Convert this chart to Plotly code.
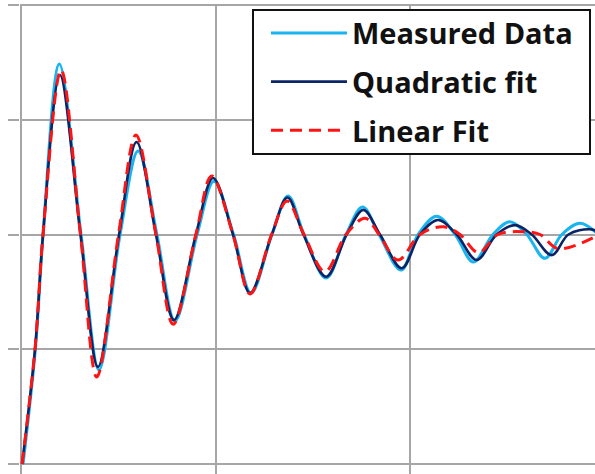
import plotly.graph_objects as go

# Measured data (light blue)
meas_t = [0.008, 0.072, 0.111, 0.195, 0.307, 0.399, 0.508, 0.601, 0.698, 0.791, 0.905, 0.992,
          1.093, 1.183, 1.291, 1.374, 1.456, 1.570, 1.673, 1.758, 1.843, 1.956, 2.044, 2.140,
          2.235, 2.329, 2.430, 2.518, 2.604, 2.698, 2.785, 2.879, 2.982]
meas_y = [0.000, 0.505, 1.000, 1.743, 1.000, 0.410, 1.000, 1.364, 1.000, 0.623, 1.000, 1.232,
          1.000, 0.745, 1.000, 1.168, 1.000, 0.810, 1.000, 1.120, 1.000, 0.845, 1.000, 1.080,
          1.000, 0.880, 1.000, 1.056, 1.000, 0.896, 1.000, 1.049, 0.993]

# Quadratic fit (navy)
quad_t = [0.003, 0.070, 0.111, 0.198, 0.304, 0.394, 0.503, 0.593, 0.693, 0.786, 0.899, 0.987,
          1.090, 1.178, 1.290, 1.371, 1.453, 1.570, 1.676, 1.762, 1.848, 1.960, 2.054, 2.148,
          2.243, 2.346, 2.449, 2.544, 2.630, 2.733, 2.819, 2.930, 2.982]
quad_y = [0.000, 0.504, 1.000, 1.695, 1.000, 0.423, 1.000, 1.403, 1.000, 0.627, 1.000, 1.246,
          1.000, 0.745, 1.000, 1.161, 1.000, 0.816, 1.000, 1.107, 1.000, 0.853, 1.000, 1.063,
          1.000, 0.889, 1.000, 1.041, 1.000, 0.910, 1.000, 1.023, 1.007]

# Linear fit (red dashed)
lin_t = [0.003, 0.070, 0.111, 0.204, 0.304, 0.388, 0.500, 0.590, 0.693, 0.782, 0.899, 0.980,
         1.090, 1.178, 1.289, 1.369, 1.456, 1.564, 1.673, 1.771, 1.843, 1.941, 2.054, 2.174,
         2.260, 2.355, 2.456, 2.587, 2.673, 2.767, 2.982]
lin_y = [0.000, 0.504, 1.000, 1.717, 1.000, 0.379, 1.000, 1.434, 1.000, 0.609, 1.000, 1.255,
         1.000, 0.741, 1.000, 1.146, 1.000, 0.838, 1.000, 1.071, 1.000, 0.889, 1.000, 1.034,
         1.000, 0.921, 1.000, 1.012, 1.000, 0.938, 1.002]

series_names = ["Measured Data", "Quadratic fit", "Linear Fit"]
x_ticks = [0, 1, 2]
y_ticks = [0, 0.5, 1.0, 1.5, 2.0]

fig = go.Figure()
fig.add_trace(go.Scatter(x=meas_t, y=meas_y, mode="lines", name=series_names[0],
                         legendgroup="a",
                         line=dict(color="#1AB4EE", width=3, shape="spline", smoothing=1.0)))
fig.add_trace(go.Scatter(x=quad_t, y=quad_y, mode="lines", name=series_names[1],
                         legendgroup="b",
                         line=dict(color="#0B2466", width=2.6, shape="spline", smoothing=1.0)))
fig.add_trace(go.Scatter(x=lin_t, y=lin_y, mode="lines", name=series_names[2],
                         legendgroup="c",
                         line=dict(color="#FF1414", width=3, dash="12px,7px",
                                   shape="spline", smoothing=1.0)))

# legend frame
fig.add_shape(type="rect", xref="paper", yref="paper",
              x0=0.4052, x1=0.9913, y0=0.6809, y1=0.9872,
              line=dict(color="#111111", width=2), fillcolor="white", layer="above")

fig.update_layout(
    width=595, height=474,
    margin=dict(l=20, r=0, t=4, b=0),
    paper_bgcolor="white", plot_bgcolor="white",
    showlegend=True,
    legend=dict(
        x=0.4278, y=0.9925, xanchor="left", yanchor="top",
        bgcolor="rgba(0,0,0,0)", borderwidth=0,
        font=dict(family="Open Sans", size=29, color="#111111", weight="bold"),
        itemwidth=76, tracegroupgap=8,
    ),
    xaxis=dict(range=[-0.0077, 2.956], tickvals=x_ticks, showticklabels=False,
               showgrid=True, gridcolor="#A6A6A6", gridwidth=1.5,
               zeroline=False, showline=False, ticks=""),
    yaxis=dict(range=[-0.0436, 2.0044], tickvals=y_ticks, showticklabels=False,
               showgrid=True, gridcolor="#A6A6A6", gridwidth=1.5,
               zeroline=False, showline=False, ticks="outside", ticklen=11,
               tickcolor="#A6A6A6", tickwidth=1.5),
)

fig.write_html("out.html",
               config={"displayModeBar": False},
               post_script="document.body.style.margin='0';document.body.style.overflow='hidden';")
